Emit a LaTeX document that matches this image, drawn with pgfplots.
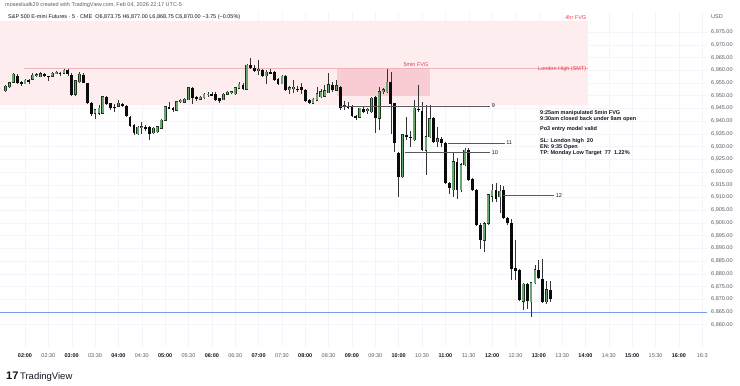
\documentclass[border=0pt]{standalone}
\usepackage{pgfplots}
\pgfplotsset{compat=1.18}
\usepackage{pgfplotstable}
\usepackage{fontspec}
\setmainfont{Liberation Sans}
\definecolor{upc}{RGB}{104,168,110}
\definecolor{upb}{RGB}{30,50,32}
\definecolor{dnc}{RGB}{10,10,12}
\definecolor{wick}{RGB}{50,50,55}
\definecolor{fvgfour}{RGB}{253,237,239}
\definecolor{fvgfive}{RGB}{249,203,210}
\definecolor{tvred}{RGB}{235,60,75}
\definecolor{lonline}{RGB}{242,180,188}
\definecolor{blueline}{RGB}{125,155,235}
\definecolor{gridc}{RGB}{243,245,250}
\definecolor{txtg}{RGB}{90,94,105}
\definecolor{txtd}{RGB}{19,23,34}
\newcommand\tv{\fontsize{5.5}{6.6}\selectfont}

\pgfplotstableread{
i o h l c
0 6952.0 6954.2 6951.5 6953.8
1 6953.5 6955.5 6953.2 6955.1
2 6955.2 6959.0 6955.0 6958.4
5 6954.8 6956.5 6954.5 6956.1
7 6956.4 6958.8 6956.0 6958.1
8 6958.0 6958.8 6957.3 6958.3
9 6957.5 6959.5 6957.2 6958.8
12 6957.7 6959.2 6957.5 6958.8
13 6959.0 6959.8 6958.6 6959.2
15 6958.8 6960.5 6958.5 6960.1
18 6950.6 6956.3 6950.2 6955.9
19 6955.5 6959.2 6955.2 6958.4
23 6943.0 6944.8 6941.0 6944.4
24 6943.0 6946.5 6942.6 6945.0
25 6943.2 6950.0 6942.9 6949.6
29 6945.9 6948.3 6945.6 6947.0
34 6935.2 6938.0 6934.8 6937.6
35 6937.6 6939.8 6935.2 6937.9
38 6935.5 6937.6 6935.0 6937.2
39 6936.0 6938.2 6935.6 6937.8
40 6937.2 6940.8 6936.8 6940.4
41 6940.4 6946.1 6940.0 6945.7
44 6944.4 6948.0 6944.0 6947.7
45 6947.6 6948.8 6947.2 6948.2
46 6947.3 6949.0 6946.9 6948.6
47 6948.5 6953.5 6948.2 6953.1
50 6948.6 6950.0 6948.3 6949.5
51 6949.3 6951.3 6949.0 6950.6
52 6950.5 6951.5 6949.8 6950.7
56 6948.5 6951.0 6948.2 6950.6
57 6950.7 6951.9 6950.3 6951.5
58 6951.4 6952.0 6950.8 6951.6
59 6950.9 6953.5 6950.2 6953.1
60 6953.1 6955.4 6952.8 6954.6
62 6952.7 6962.4 6952.4 6962.0
65 6959.7 6964.0 6958.1 6960.3
67 6958.0 6960.1 6954.8 6959.2
71 6954.8 6958.2 6954.5 6957.8
73 6952.3 6953.8 6950.9 6953.1
74 6953.0 6956.4 6951.3 6953.3
79 6947.0 6949.2 6946.7 6948.6
80 6948.3 6953.5 6948.0 6950.9
81 6949.6 6952.5 6949.2 6951.5
82 6949.9 6954.0 6949.5 6952.0
83 6951.2 6958.8 6950.9 6954.2
85 6952.2 6956.3 6951.8 6953.8
87 6945.6 6948.0 6944.5 6946.0
91 6941.5 6945.4 6941.2 6945.0
93 6944.1 6945.4 6943.0 6944.6
94 6943.8 6949.6 6943.4 6949.0
96 6941.1 6953.5 6936.8 6951.6
97 6951.6 6953.0 6950.5 6952.3
98 6951.6 6960.3 6950.9 6955.5
102 6918.2 6935.2 6917.8 6934.8
105 6932.6 6948.3 6932.2 6945.0
108 6928.6 6946.3 6918.8 6933.9
109 6933.9 6946.3 6933.5 6941.1
111 6932.0 6937.8 6930.0 6933.2
115 6913.0 6928.0 6910.3 6924.1
117 6913.0 6923.5 6912.0 6922.8
118 6922.8 6929.3 6922.4 6928.6
123 6893.3 6900.2 6888.7 6899.8
124 6899.8 6911.5 6899.4 6911.0
125 6910.6 6915.5 6908.3 6912.9
127 6910.3 6914.9 6903.8 6912.5
133 6869.4 6876.4 6865.8 6876.0
135 6869.0 6877.0 6863.2 6876.5
136 6876.5 6883.5 6876.1 6881.7
139 6869.0 6877.0 6868.2 6873.75
}\upC

\pgfplotstableread{
i o h l c
3 6958.0 6958.5 6954.8 6955.2
4 6955.5 6955.8 6954.0 6954.5
6 6956.0 6956.8 6954.8 6955.8
10 6958.5 6959.0 6957.5 6958.2
11 6957.8 6958.0 6955.8 6957.6
14 6959.0 6959.3 6957.9 6958.7
16 6960.1 6960.6 6958.0 6958.4
17 6958.4 6958.8 6950.0 6950.5
20 6958.4 6958.8 6954.8 6955.1
21 6954.8 6955.2 6947.0 6947.2
22 6947.2 6947.5 6942.0 6942.8
26 6949.6 6950.0 6946.6 6947.0
27 6947.0 6947.3 6944.4 6945.0
28 6945.7 6947.0 6943.8 6945.4
30 6947.0 6947.4 6945.7 6946.1
31 6946.1 6946.5 6941.7 6942.0
32 6941.7 6942.0 6937.8 6938.1
33 6938.5 6938.8 6934.6 6935.2
36 6937.7 6938.5 6936.2 6937.4
37 6937.6 6938.0 6932.6 6935.2
42 6945.7 6947.4 6944.8 6945.2
43 6945.2 6945.6 6943.8 6944.4
48 6953.0 6953.3 6946.9 6949.0
49 6949.3 6949.7 6948.0 6948.5
53 6950.6 6951.3 6949.8 6950.4
54 6950.7 6951.3 6948.0 6948.3
55 6949.0 6949.4 6947.3 6947.9
61 6954.4 6955.0 6952.3 6952.7
63 6962.0 6965.0 6960.5 6961.0
64 6961.0 6962.2 6959.5 6959.9
66 6959.9 6960.3 6957.3 6957.7
68 6959.3 6960.5 6958.5 6959.0
69 6959.2 6959.6 6955.8 6956.1
70 6956.8 6957.2 6954.4 6954.8
72 6957.8 6958.2 6951.8 6952.2
75 6952.8 6953.8 6951.5 6952.4
76 6953.5 6955.0 6950.9 6952.2
77 6952.2 6952.6 6947.5 6947.9
78 6948.3 6948.7 6946.6 6947.0
84 6954.2 6955.5 6951.5 6952.2
86 6953.5 6954.0 6944.6 6945.0
88 6945.9 6947.6 6944.9 6945.5
89 6946.0 6946.3 6941.6 6942.0
90 6942.0 6942.4 6940.4 6941.5
92 6945.0 6945.6 6943.4 6943.8
95 6949.6 6950.0 6935.2 6941.1
99 6955.5 6959.4 6935.2 6947.0
100 6947.0 6947.4 6928.0 6931.3
101 6927.6 6928.0 6910.3 6918.2
103 6934.8 6941.7 6932.6 6933.9
104 6933.9 6936.0 6930.0 6933.5
106 6945.0 6954.2 6943.8 6944.4
107 6944.0 6947.6 6928.2 6928.6
110 6941.1 6941.5 6931.5 6932.0
112 6933.2 6933.6 6930.0 6931.3
113 6931.3 6931.7 6915.1 6915.5
114 6915.8 6916.2 6911.6 6913.6
116 6924.1 6925.5 6909.3 6913.0
119 6928.6 6929.3 6916.4 6916.8
120 6917.1 6917.5 6912.6 6913.0
121 6913.0 6913.4 6898.8 6899.2
122 6899.2 6900.2 6890.0 6893.3
126 6912.9 6915.8 6908.3 6909.6
128 6912.9 6914.5 6901.7 6902.0
129 6902.0 6902.4 6899.3 6900.1
130 6900.1 6901.4 6877.6 6882.2
131 6882.2 6893.3 6877.6 6881.2
132 6881.5 6882.0 6869.3 6869.7
134 6876.0 6876.4 6866.4 6869.4
137 6881.7 6885.4 6877.8 6878.2
138 6878.2 6885.7 6868.6 6869.0
140 6873.75 6877.0 6868.75 6870.0
}\dnC

\pgfplotsset{
  candle/.style={draw=none, mark=none, forget plot,
    error bars/.cd, y dir=both, y explicit, error mark=none,
    error bar style={solid, line cap=butt, #1}},
}

\begin{document}
\begin{tikzpicture}
\useasboundingbox (0,0) rectangle (740pt,386pt);
\fill[white] (0,0) rectangle (740pt,386pt);
\begin{axis}[
  at={(0pt,39pt)}, anchor=south west,
  scale only axis, width=707pt, height=335pt,
  xmin=1.4648, xmax=16.601,
  ymin=6851.23, ymax=6982.86,
  axis line style={draw=none},
  major tick length=0pt,
  /pgf/number format/assume math mode=true,
  xtick={2,3,...,16},
  xticklabels={02:00,03:00,04:00,05:00,06:00,07:00,08:00,09:00,10:00,11:00,12:00,13:00,14:00,15:00,16:00},
  xticklabel style={font=\tv\bfseries, text=txtd, anchor=base, yshift=-11pt},
  extra x ticks={2.5,3.5,...,16.5},
  extra x tick labels={02:30,03:30,04:30,05:30,06:30,07:30,08:30,09:30,10:30,11:30,12:30,13:30,14:30,15:30,16:3},
  extra x tick style={grid=major, xticklabel style={font=\tv, text=txtg}},
  ytick={6860,6865,...,6975},
  yticklabel pos=right,
  yticklabel={\pgfmathprintnumber[fixed,fixed zerofill,precision=2,1000 sep={,}]{\tick}},
  yticklabel style={font=\tv, text=txtg, anchor=west, inner sep=0pt, xshift=4pt},
  grid=major, major grid style={draw=gridc, line width=0.4pt},
  clip=true,
]
% 4hr FVG
\addplot[fill=fvgfour, draw=none, mark=none, forget plot] coordinates {(1.3,6946.3) (14.05,6946.3) (14.05,6979.4) (1.3,6979.4) (1.3,6946.3)};
% 5min FVG
\addplot[fill=fvgfive, draw=none, mark=none, forget plot] coordinates {(8.68,6949.9) (10.67,6949.9) (10.67,6960.85) (8.68,6960.85) (8.68,6949.9)};
% London high
\addplot[draw=lonline, mark=none, line width=0.6pt, forget plot] coordinates {(1.98,6960.85) (14.05,6960.85)};
% Monday low
\addplot[draw=blueline, mark=none, line width=1pt, forget plot] coordinates {(1.3,6864.6) (16.7,6864.6)};
% wicks
\addplot[candle={draw=wick, line width=0.6pt}]
  table[x expr={\thisrow{i}/12+1.583333}, y expr={(\thisrow{h}+\thisrow{l})/2}, y error expr={(\thisrow{h}-\thisrow{l})/2}] {\upC};
\addplot[candle={draw=wick, line width=0.6pt}]
  table[x expr={\thisrow{i}/12+1.583333}, y expr={(\thisrow{h}+\thisrow{l})/2}, y error expr={(\thisrow{h}-\thisrow{l})/2}] {\dnC};
% down bodies
\addplot[candle={draw=dnc, line width=2.8pt}]
  table[x expr={\thisrow{i}/12+1.583333}, y expr={(\thisrow{o}+\thisrow{c})/2}, y error expr={max(abs(\thisrow{c}-\thisrow{o})/2,0.15)}] {\dnC};
% up bodies outline
\addplot[candle={draw=upb, line width=2.8pt}]
  table[x expr={\thisrow{i}/12+1.583333}, y expr={(\thisrow{o}+\thisrow{c})/2}, y error expr={max(abs(\thisrow{c}-\thisrow{o})/2,0.1)+0.2}] {\upC};
% up bodies fill
\addplot[candle={draw=upc, line width=1.7pt}]
  table[x expr={\thisrow{i}/12+1.583333}, y expr={(\thisrow{o}+\thisrow{c})/2}, y error expr={max(abs(\thisrow{c}-\thisrow{o})/2,0.02)}] {\upC};
% key level lines
\addplot[draw=black!65, mark=none, line width=0.6pt, forget plot] coordinates {(8.74,6945.9) (11.96,6945.9)};
\addplot[draw=black!65, mark=none, line width=0.6pt, forget plot] coordinates {(10.14,6927.6) (11.96,6927.6)};
\addplot[draw=black!65, mark=none, line width=0.6pt, forget plot] coordinates {(11.05,6931.4) (12.27,6931.4)};
\addplot[draw=black!65, mark=none, line width=0.6pt, forget plot] coordinates {(12.23,6910.9) (13.33,6910.9)};
\node[font=\tv, text=txtd, anchor=west, inner sep=0.5pt] at (axis cs:11.98,6945.9) {9};
\node[font=\tv, text=txtd, anchor=west, inner sep=0.5pt] at (axis cs:11.98,6927.6) {10};
\node[font=\tv, text=txtd, anchor=west, inner sep=0.5pt] at (axis cs:12.29,6931.4) {11};
\node[font=\tv, text=txtd, anchor=west, inner sep=0.5pt] at (axis cs:13.35,6910.9) {12};
% labels
\node[font=\tv, text=tvred, anchor=south east, inner sep=0.5pt] at (axis cs:14.03,6979.6) {4hr FVG};
\node[font=\tv, text=tvred, anchor=east, inner sep=0.5pt] at (axis cs:14.03,6960.6) {London High (SMT)};
\node[font=\tv, text=tvred, anchor=south east, inner sep=0.5pt] at (axis cs:10.65,6961.1) {5min FVG};
\end{axis}
% notes
\begin{scope}[every node/.style={font=\tv\bfseries, text=txtd, anchor=west, inner sep=0pt}]
\node at (540pt,273pt) {9:25am manipulated 5min FVG};
\node at (540pt,267pt) {9:30am closed back under 9am open};
\node at (540pt,257pt) {Po3 entry model valid};
\node at (540pt,245pt) {SL: London high\ \ 20};
\node at (540pt,239pt) {EN: 9:35 Open};
\node at (540pt,233pt) {TP: Monday Low Target\ \ 77\ \ 1.22\%};
\end{scope}
% header
\node[font=\tv, text=txtg, anchor=west, inner sep=0pt] at (5pt,381pt) {mosesliudk29 created with TradingView.com, Feb 04, 2026 22:17 UTC-5};
\node[font=\tv, text=txtd, anchor=west, inner sep=0pt] at (8pt,369pt) {S\&P 500 E-mini Futures · 5 · CME\ \ O6,873.75\ H6,877.00\ L6,868.75\ C6,870.00\ −3.75 (−0.05\%)};
\node[font=\tv, text=txtg, anchor=west, inner sep=0pt] at (711pt,369pt) {USD};
% logo
\node[anchor=west, inner sep=0pt, text=txtd] at (6pt,9pt) {{\fontsize{11}{12}\selectfont\bfseries 17}\,{\fontsize{9.5}{11}\selectfont TradingView}};
\end{tikzpicture}
\end{document}
